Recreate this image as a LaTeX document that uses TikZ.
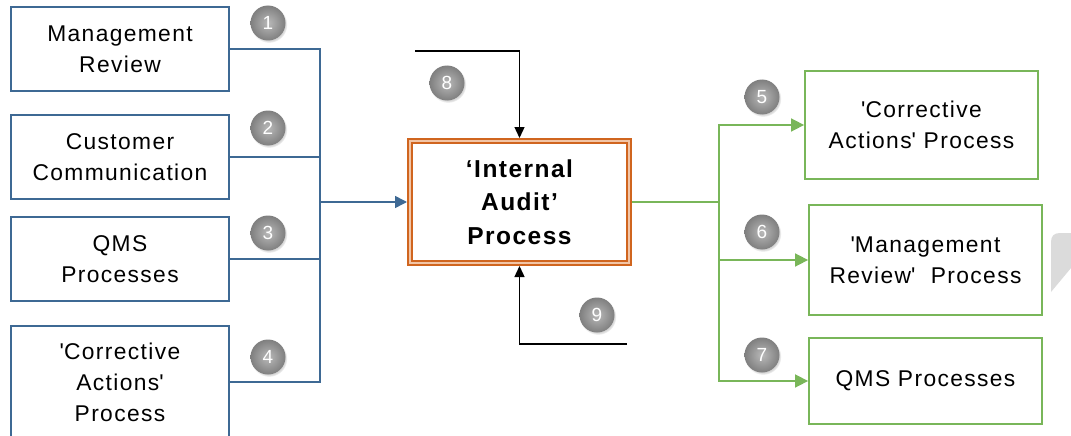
\documentclass[tikz,border=0pt]{standalone}
\usepackage{fontspec}
\setmainfont{Liberation Sans}
\newfontfamily\boxfont[LetterSpace=6]{Liberation Sans}
\usetikzlibrary{arrows.meta,shadows}
\definecolor{lblue}{HTML}{3E6994}
\definecolor{lgreen}{HTML}{79B659}
\definecolor{dorange}{HTML}{D0651F}
\definecolor{lorange}{HTML}{F2C5A6}
\definecolor{badgegray}{HTML}{8A8A8A}
\tikzset{
  leftbox/.style={draw=lblue, line width=1.8pt, fill=white, align=center, inner sep=0pt,
    font=\boxfont\fontsize{22.8}{31}\selectfont},
  rightbox/.style={draw=lgreen, line width=1.8pt, fill=white, align=center, inner sep=0pt,
    font=\boxfont\fontsize{22.8}{31}\selectfont},
  badge/.style={circle, minimum size=35pt, inner sep=0pt, text=white,
    inner color=gray!55, outer color=badgegray!92!black,
    circular drop shadow={shadow xshift=1pt, shadow yshift=-1.5pt, shadow scale=1.05, opacity=0.35},
    font=\fontsize{19}{19}\selectfont},
  blueline/.style={draw=lblue, line width=1.6pt},
  greenline/.style={draw=lgreen, line width=1.6pt},
  blackline/.style={draw=black, line width=1.3pt},
  bluetip/.style={-{Triangle[length=12pt,width=12pt]}},
  greentip/.style={-{Triangle[length=13pt,width=13pt]}},
  blacktip/.style={-{Triangle[length=11pt,width=10pt]}},
}
\begin{document}
\begin{tikzpicture}[x=1pt,y=-1pt]
\useasboundingbox (0,0) rectangle (1071,436);
\clip (0,0) rectangle (1071,436);
% left boxes
\node[leftbox, minimum width=218pt, minimum height=84pt] (b1) at (120,49) {Management\\Review};
\node[leftbox, minimum width=218pt, minimum height=84pt] (b2) at (120,157) {Customer\\Communication};
\node[leftbox, minimum width=218pt, minimum height=84pt] (b3) at (120,259) {QMS\\Processes};
\node[leftbox, minimum width=218pt, minimum height=112pt] (b4) at (120,382) {\textquotesingle Corrective\\Actions\textquotesingle\\Process};
% center box
\node[draw=dorange, line width=1.8pt, double=lorange, double distance=2.4pt, fill=white,
  minimum width=219pt, minimum height=122pt, inner sep=0pt, outer sep=3pt, align=center,
  font=\bfseries\boxfont\fontsize{24.5}{33.5}\selectfont] (c) at (519.5,202) {‘Internal\\Audit’\\Process};
% right boxes
\node[rightbox, minimum width=233pt, minimum height=108pt] (r1) at (921.5,125) {\textquotesingle Corrective\\Actions\textquotesingle\ Process};
\node[rightbox, minimum width=233pt, minimum height=110pt] (r2) at (925.5,260) {\textquotesingle Management\\Review\textquotesingle\ \ Process};
\node[rightbox, minimum width=233pt, minimum height=86pt] (r3) at (925.5,381) {QMS Processes};
% junction coordinates
\coordinate (jl) at (320,202);
\coordinate (jr) at (719,202);
\coordinate (s8) at (415,51);
\coordinate (s9) at (627,344);
% left connectors
\draw[blueline] (b1.east |- 0,49) -| (jl);
\draw[blueline] (b2.east |- 0,157) -| (jl);
\draw[blueline] (b3.east |- 0,259) -| (jl);
\draw[blueline] (b4.east |- 0,382) -| (jl);
\draw[blueline, bluetip] (jl) -- (c.west);
% right connectors
\draw[greenline] (c.east) -- (jr);
\draw[greenline, greentip] (jr) |- (r1.west);
\draw[greenline, greentip] (jr) |- (r2.west);
\draw[greenline, greentip] (jr) |- (r3.west);
% top and bottom
\draw[blackline, blacktip] (s8) -| (c.north);
\draw[blackline, blacktip] (s9) -| (c.south);
% badges
\node[badge] (n1) at (268,23) {1};
\node[badge] (n2) at (268,128) {2};
\node[badge] (n3) at (268,233) {3};
\node[badge] (n4) at (268,357) {4};
\node[badge] (n5) at (762,97) {5};
\node[badge] (n6) at (762,232) {6};
\node[badge] (n7) at (762,355) {7};
\node[badge] (n8) at (447,83) {8};
\node[badge] (n9) at (597,315) {9};
% grey fragment at right edge
\fill[gray!28] (1051,292) -- (1051,242) .. controls (1051,236) and (1054,233) .. (1060,233) -- (1071,233) -- (1071,268) -- cycle;
\end{tikzpicture}
\end{document}
